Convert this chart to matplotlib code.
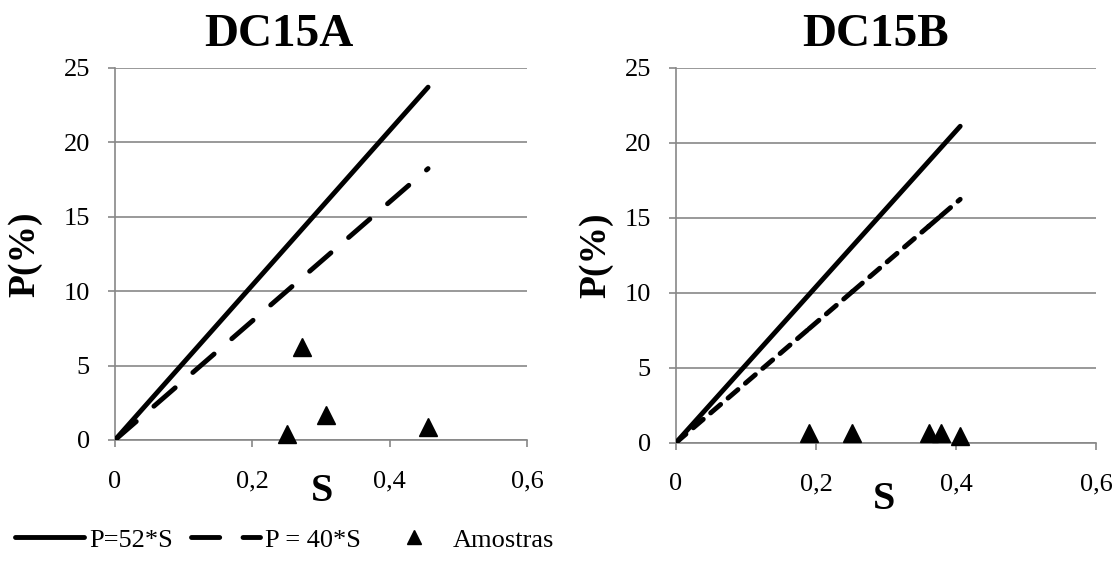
import numpy as np
import matplotlib
matplotlib.use("Agg")
import matplotlib.pyplot as plt

# ============================================================
# DATA
# ============================================================
titles = ["DC15A", "DC15B"]

# samples (S, P%)
s_a = [0.251, 0.272, 0.307, 0.456]
p_a = [0.38, 6.24, 1.70, 0.87]
s_b = [0.190, 0.252, 0.361, 0.378, 0.406]
p_b = [0.65, 0.62, 0.62, 0.66, 0.43]

coef_solid = 52
coef_dash = 40
x_ticks = [0, 0.2, 0.4, 0.6]
x_tick_labels = ["0", "0,2", "0,4", "0,6"]
y_ticks = [0, 5, 10, 15, 20, 25]

# ============================================================
# STYLE
# ============================================================
plt.rcParams['font.family'] = ['Liberation Serif', 'DejaVu Serif']
GRID = "#878787"
TICK_FS = 19
LW = 3.5

fig = plt.figure(figsize=(11.16, 5.61), dpi=100)
ax_a = fig.add_axes([0.1030, 0.2157, 0.3692, 0.6631])
ax_b = fig.add_axes([0.6057, 0.2109, 0.3764, 0.6679])

# (axis, S, P, dash pattern, title x, ylabel xy, xlabel xy)
panels = [
    (ax_a, s_a, p_a, (5.8, 4.8), 0.398, (-0.175, 0.5), (0.502, -0.088)),
    (ax_b, s_b, p_b, (2.7, 2.0), 0.474, (-0.150, 0.5), (0.495, -0.101)),
]

for i, (ax, s, p, dash, tx, ylab_xy, xlab_xy) in enumerate(panels):
    s_line = [0] + sorted(s)
    s_end = [0, max(s)]

    # solid line P = 52*S
    ax.plot(s_end, [coef_solid * v for v in s_end], color="black", lw=LW,
            solid_capstyle="round", label="P=52*S", zorder=3)

    # dashed line P = 40*S
    if i == 0:
        ax.plot(s_end, [coef_dash * v for v in s_end], color="black", lw=LW,
                dashes=dash, dash_capstyle="round", label="P = 40*S", zorder=3)
    else:
        # segment by segment between sample S values (dash restarts at each point)
        for k in range(len(s_line) - 1):
            seg = s_line[k:k + 2]
            ax.plot(seg, [coef_dash * v for v in seg], color="black", lw=LW,
                    dashes=dash, dash_capstyle="round", zorder=3)

    ax.plot(s, p, linestyle="none", marker="^", markersize=12.5, color="black",
            label="Amostras", clip_on=False, zorder=4)

    ax.set_xlim(0, 0.6)
    ax.set_ylim(0, 25)
    ax.set_xticks(x_ticks)
    ax.set_xticklabels(x_tick_labels)
    ax.set_yticks(y_ticks)
    ax.tick_params(axis="both", labelsize=TICK_FS, color=GRID, width=1.2, length=5)
    ax.tick_params(axis="x", pad=17)
    ax.tick_params(axis="y", pad=13)
    ax.yaxis.grid(True, color=GRID, lw=1.2)
    ax.set_axisbelow(True)
    for sp in ["top", "right"]:
        ax.spines[sp].set_visible(False)
    for sp in ["left", "bottom"]:
        ax.spines[sp].set_color(GRID)
        ax.spines[sp].set_linewidth(1.2)

    ax.set_title(titles[i], fontsize=34, fontweight="bold", x=tx, pad=16)
    ax.set_ylabel("P(%)", fontsize=27, fontweight="bold")
    ax.yaxis.set_label_coords(*ylab_xy)
    ax.set_xlabel("S", fontsize=29, fontweight="bold")
    ax.xaxis.set_label_coords(*xlab_xy)

# legend at the bottom
handles, labels = ax_a.get_legend_handles_labels()
fig.legend(handles, labels, loc="center left", bbox_to_anchor=(0.0134, 0.0375),
           ncol=3, frameon=False, fontsize=19, handlelength=2.6,
           handletextpad=0.2, columnspacing=0.7, markerscale=0.75,
           borderpad=0, borderaxespad=0)

fig.savefig("out.png", dpi=100)
